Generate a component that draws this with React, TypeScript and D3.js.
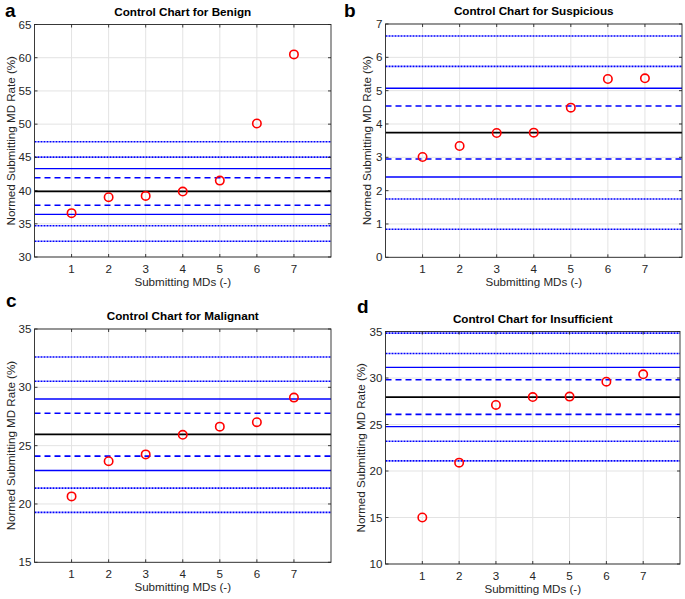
import React from "react";
import * as d3 from "d3";

const xs = [1, 2, 3, 4, 5, 6, 7];
const xTicks = [1, 2, 3, 4, 5, 6, 7];

const titles = ["Control Chart for Benign", "Control Chart for Suspicious", "Control Chart for Malignant", "Control Chart for Insufficient"];
const letters = ["a", "b", "c", "d"];

const benignPts = [36.6, 39.0, 39.2, 39.85, 41.5, 50.1, 60.5];
const suspiciousPts = [3.01, 3.34, 3.73, 3.74, 4.49, 5.35, 5.37];
const malignantPts = [20.65, 23.67, 24.25, 25.93, 26.63, 27.01, 29.12];
const insufficientPts = [15.0, 20.9, 27.1, 27.95, 28.0, 29.6, 30.4];

const benignCenter = 39.87;
const benignDashed = [41.93, 37.78];
const benignSolid = [43.3, 36.42];
const benignDotted = [47.35, 45.04, 34.71, 32.37];

const suspiciousCenter = 3.74;
const suspiciousDashed = [4.54, 2.95];
const suspiciousSolid = [5.07, 2.41];
const suspiciousDotted = [6.64, 5.73, 1.75, 0.84];

const malignantCenter = 25.96;
const malignantDashed = [27.78, 24.1];
const malignantSolid = [29.0, 22.87];
const malignantDotted = [32.6, 30.52, 21.36, 19.28];

const insufficientCenter = 27.95;
const insufficientDashed = [29.81, 26.09];
const insufficientSolid = [31.14, 24.77];
const insufficientDotted = [34.82, 32.64, 23.2, 21.09];

const yDomains = [[30, 65], [0, 7], [15, 35], [10, 35]];
const yTickLists = [
  [30, 35, 40, 45, 50, 55, 60, 65],
  [0, 1, 2, 3, 4, 5, 6, 7],
  [15, 20, 25, 30, 35],
  [10, 15, 20, 25, 30, 35],
];

const panelsData = [
  { pts: benignPts, center: benignCenter, dashed: benignDashed, solid: benignSolid, dotted: benignDotted },
  { pts: suspiciousPts, center: suspiciousCenter, dashed: suspiciousDashed, solid: suspiciousSolid, dotted: suspiciousDotted },
  { pts: malignantPts, center: malignantCenter, dashed: malignantDashed, solid: malignantSolid, dotted: malignantDotted },
  { pts: insufficientPts, center: insufficientCenter, dashed: insufficientDashed, solid: insufficientSolid, dotted: insufficientDotted },
];

const layout = [
  { l: 34.5, r: 331, t: 24.5, b: 257, yl: -23, lx: 5, ly: 17 },
  { l: 385.5, r: 682, t: 24, b: 257.3, yl: -17.5, lx: 344, ly: 17 },
  { l: 34.5, r: 331, t: 329, b: 562.3, yl: -23, lx: 6, ly: 307 },
  { l: 385.5, r: 680, t: 331.5, b: 564, yl: -23.5, lx: 357, ly: 313 },
];

const FONT = "Liberation Sans, Arial, Helvetica, sans-serif";
const AX = "#262626";
const GRID = "#e3e3e3";
const BLUE = "#0000ff";
const FS = 11.6;

function Panel({ i }: { i: number }) {
  const L = layout[i];
  const d = panelsData[i];
  const x = d3.scaleLinear().domain([0, 8]).range([L.l, L.r]);
  const y = d3.scaleLinear().domain(yDomains[i]).range([L.b, L.t]);
  const yt = yTickLists[i];
  const hline = (v: number, stroke: string, w: number, dash?: string, key?: string) => (
    <line key={key} x1={L.l} x2={L.r} y1={y(v)} y2={y(v)} stroke={stroke} strokeWidth={w} strokeDasharray={dash} />
  );
  const midX = (L.l + L.r) / 2;
  const midY = (L.t + L.b) / 2;
  return (
    <g>
      {xTicks.map((t) => (
        <line key={"gx" + t} x1={x(t)} x2={x(t)} y1={L.t} y2={L.b} stroke={GRID} strokeWidth={1} />
      ))}
      {yt.map((t) => (
        <line key={"gy" + t} x1={L.l} x2={L.r} y1={y(t)} y2={y(t)} stroke={GRID} strokeWidth={1} />
      ))}
      {d.dotted.map((v, k) => hline(v, BLUE, 1.6, "2 1", "dt" + k))}
      {d.solid.map((v, k) => hline(v, BLUE, 1.4, undefined, "so" + k))}
      {d.dashed.map((v, k) => hline(v, BLUE, 1.6, "6 4", "da" + k))}
      {hline(d.center, "#000", 1.8, undefined, "c")}
      {xs.map((xv, k) => (
        <circle key={"p" + k} cx={x(xv)} cy={y(d.pts[k])} r={4.2} fill="none" stroke="#ff0000" strokeWidth={1.6} />
      ))}
      <rect x={L.l} y={L.t} width={L.r - L.l} height={L.b - L.t} fill="none" stroke={AX} strokeWidth={0.9} />
      {xTicks.map((t) => (
        <g key={"tx" + t}>
          <line x1={x(t)} x2={x(t)} y1={L.b} y2={L.b - 3} stroke={AX} strokeWidth={0.9} />
          <line x1={x(t)} x2={x(t)} y1={L.t} y2={L.t + 3} stroke={AX} strokeWidth={0.9} />
          <text x={x(t)} y={L.b + 16} textAnchor="middle" fontSize={FS} fill={AX} fontFamily={FONT}>{t}</text>
        </g>
      ))}
      {yt.map((t) => (
        <g key={"ty" + t}>
          <line x1={L.l} x2={L.l + 3} y1={y(t)} y2={y(t)} stroke={AX} strokeWidth={0.9} />
          <line x1={L.r} x2={L.r - 3} y1={y(t)} y2={y(t)} stroke={AX} strokeWidth={0.9} />
          <text x={L.l - 3} y={y(t) + 4} textAnchor="end" fontSize={FS} fill={AX} fontFamily={FONT}>{t}</text>
        </g>
      ))}
      <text x={midX} y={L.b + 29} textAnchor="middle" fontSize={FS} fill={AX} fontFamily={FONT}>Submitting MDs (-)</text>
      <text transform={`translate(${L.l + L.yl},${midY}) rotate(-90)`} textAnchor="middle" dominantBaseline="middle" fontSize={FS} fill={AX} fontFamily={FONT}>Normed Submitting MD Rate (%)</text>
      <text x={midX} y={L.t - 9} textAnchor="middle" fontSize={11.7} fontWeight="bold" fill="#000" fontFamily={FONT}>{titles[i]}</text>
      <text x={L.lx} y={L.ly} fontSize={19} fontWeight="bold" fill="#000" fontFamily={FONT}>{letters[i]}</text>
    </g>
  );
}

export default function App() {
  return (
    <svg width={685} height={599} style={{ position: "absolute", left: 0, top: 0, background: "#fff" }}>
      {[0, 1, 2, 3].map((i) => (
        <Panel key={i} i={i} />
      ))}
    </svg>
  );
}
